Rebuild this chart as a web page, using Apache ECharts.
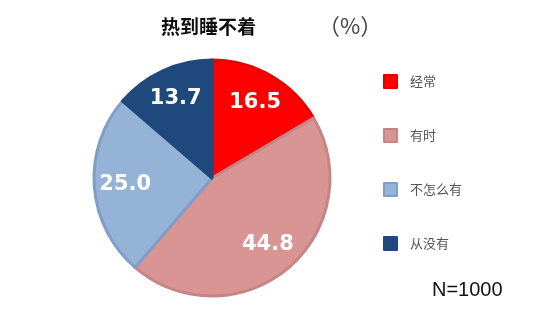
<!DOCTYPE html>
<html><head><meta charset="utf-8">
<script src="https://cdn.jsdelivr.net/npm/echarts@6/dist/echarts.min.js"></script>
<style>html,body{margin:0;padding:0;background:#fff}#c{width:550px;height:309px}</style>
</head><body><div id="c"></div>
<script>
const categories = ['经常', '有时', '不怎么有', '从没有'];
const values = [16.5, 44.8, 25.0, 13.7];
const fillColors = ['#FF0000', '#D99594', '#95B3D7', '#1F497D'];
const borderColors = ['#E80000', '#C58586', '#7F9FC8', '#1F497D'];
const title = '热到睡不着';
const unit = '（%）';
const note = 'N=1000';

const chart = echarts.init(document.getElementById('c'));
const center = [212, 178];
chart.setOption({
  animation: false,
  color: fillColors,
  graphic: [
    {type: 'text', left: 161, top: 17, style: {text: title, font: 'bold 19px "Noto Sans CJK SC"', fill: '#111'}},
    {type: 'text', left: 318, top: 15, style: {text: unit, font: '22px "Noto Sans CJK SC"', fill: '#444'}},
    {type: 'text', left: 432, top: 280, style: {text: note, font: '20px "Liberation Sans", Arial', fill: '#111'}}
  ],
  legend: {
    orient: 'vertical', left: 378, top: 69, itemWidth: 13, itemHeight: 13, itemGap: 39,
    icon: 'rect', data: categories,
    textStyle: {fontSize: 13, color: '#555', fontFamily: 'Noto Sans CJK SC', padding: [0, 0, 0, 8]}
  },
  series: [
    {
      type: 'pie', center: center, radius: [0, 118], startAngle: 90, clockwise: true,
      label: {show: false}, labelLine: {show: false},
      data: categories.map((n, i) => ({name: n, value: values[i],
        itemStyle: {color: fillColors[i], borderColor: borderColors[i], borderWidth: 3}}))
    },
    {
      type: 'pie', center: center, radius: [50, 118], startAngle: 90, clockwise: true,
      silent: true, legendHoverLink: false,
      itemStyle: {color: 'rgba(0,0,0,0)'},
      label: {show: true, position: 'inside', formatter: p => values[p.dataIndex].toFixed(1),
        color: '#fff', fontSize: 21, fontWeight: 'bold', fontFamily: 'Verdana, "DejaVu Sans", sans-serif'},
      labelLine: {show: false},
      data: categories.map((n, i) => ({name: n + ' ', value: values[i]}))
    }
  ]
});
</script></body></html>
